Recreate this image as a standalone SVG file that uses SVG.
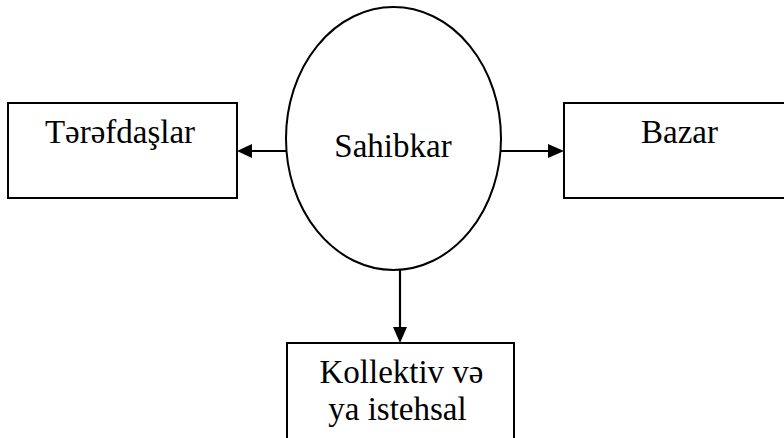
<svg xmlns="http://www.w3.org/2000/svg" width="784" height="438" viewBox="0 0 784 438">
  <style>
    .box { fill: #ffffff; stroke: #000000; stroke-width: 2; }
    .oval { fill: #ffffff; stroke: #000000; stroke-width: 2; }
    .label { font-family: "Liberation Serif", "Times New Roman", serif; font-size: 33px; fill: #000000; text-anchor: middle; }
    .link { stroke: #000000; stroke-width: 2.2; fill: none; }
    .head { fill: #000000; }
  </style>
  <rect width="784" height="438" fill="#ffffff"/>

  <g id="node-terefdaslar">
    <rect class="box" x="8" y="103" width="229" height="95"/>
    <text class="label" x="120" y="143">Tərəfdaşlar</text>
  </g>

  <g id="node-bazar">
    <rect class="box" x="564" y="103" width="240" height="95"/>
    <text class="label" x="679.5" y="143">Bazar</text>
  </g>

  <g id="node-kollektiv">
    <rect class="box" x="287" y="343" width="227" height="110"/>
    <text class="label" x="401.5" y="383">Kollektiv və</text>
    <text class="label" x="397.5" y="420">ya istehsal</text>
  </g>

  <g id="node-sahibkar">
    <ellipse class="oval" cx="393.5" cy="138.5" rx="107.5" ry="131.5"/>
    <text class="label" x="393" y="157">Sahibkar</text>
  </g>

  <g id="connectors">
    <line class="link" x1="286" y1="151" x2="251" y2="151"/>
    <polygon class="head" points="237,151 252,144 252,158"/>
    <line class="link" x1="501" y1="151" x2="549" y2="151"/>
    <polygon class="head" points="564,151 548,144 548,158"/>
    <line class="link" x1="400" y1="270" x2="400" y2="328"/>
    <polygon class="head" points="400,343 393,327 407,327"/>
  </g>
</svg>
